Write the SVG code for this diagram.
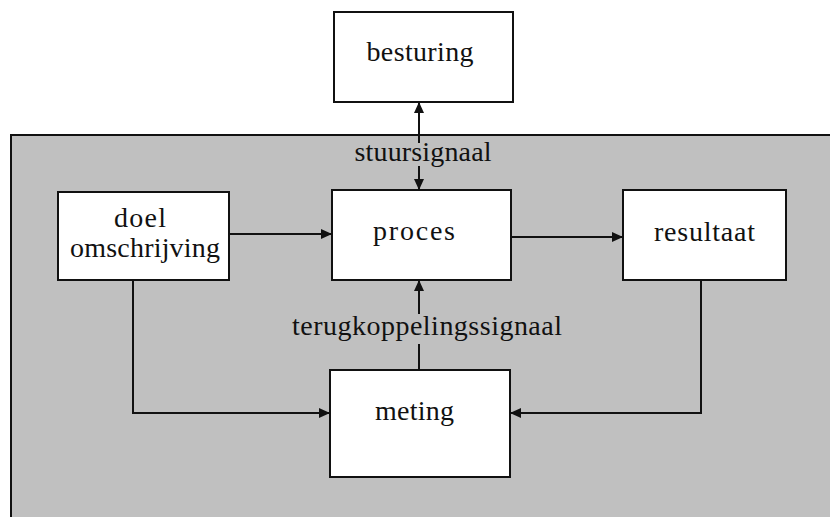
<svg xmlns="http://www.w3.org/2000/svg" width="830" height="517" viewBox="0 0 830 517">
<style>
.box{fill:#fff;stroke:#111;stroke-width:2}
.t{font-family:'Liberation Serif','DejaVu Serif',serif;font-size:28px;fill:#111;text-anchor:middle}
.c{fill:none;stroke:#111;stroke-width:2}
</style>
<defs>
<marker id="ah" markerUnits="userSpaceOnUse" markerWidth="12" markerHeight="10" refX="11" refY="5" orient="auto">
<path d="M0,0 L11,5 L0,10 Z" fill="#111"/>
</marker>
</defs>
<rect id="system" x="11" y="135" width="830" height="400" fill="#c0c0c0" stroke="#111" stroke-width="2"/>
<g id="besturing"><rect class="box" x="334" y="12" width="179" height="90"/><text class="t" font-family="Liberation Serif" x="420" y="61" textLength="107" lengthAdjust="spacing">besturing</text></g>
<g id="doel"><rect class="box" x="58" y="192" width="171" height="88"/><text class="t" font-family="Liberation Serif" x="140" y="227" textLength="52" lengthAdjust="spacing">doel</text><text class="t" font-family="Liberation Serif" x="145" y="257" textLength="150" lengthAdjust="spacing">omschrijving</text></g>
<g id="proces"><rect class="box" x="332" y="190" width="179" height="90"/><text class="t" font-family="Liberation Serif" x="414" y="240" textLength="82" lengthAdjust="spacing">proces</text></g>
<g id="resultaat"><rect class="box" x="623" y="190" width="163" height="90"/><text class="t" font-family="Liberation Serif" x="704.5" y="241" textLength="101" lengthAdjust="spacing">resultaat</text></g>
<g id="meting"><rect class="box" x="330" y="370" width="180" height="107"/><text class="t" font-family="Liberation Serif" x="414.5" y="420" textLength="79" lengthAdjust="spacing">meting</text></g>
<g id="connectors">
<line class="c" x1="419" y1="143" x2="419" y2="102" marker-end="url(#ah)"/>
<line class="c" x1="419" y1="166" x2="419" y2="190" marker-end="url(#ah)"/>
<text class="t" font-family="Liberation Serif" x="423" y="161" textLength="137" lengthAdjust="spacing">stuursignaal</text>
<line class="c" x1="229" y1="234" x2="332" y2="234" marker-end="url(#ah)"/>
<line class="c" x1="511" y1="237" x2="623" y2="237" marker-end="url(#ah)"/>
<line class="c" x1="419" y1="370" x2="419" y2="344"/>
<line class="c" x1="419" y1="314" x2="419" y2="280" marker-end="url(#ah)"/>
<text class="t" font-family="Liberation Serif" x="427" y="335" textLength="270" lengthAdjust="spacing">terugkoppelingssignaal</text>
<polyline class="c" points="133,280 133,413 330,413" marker-end="url(#ah)"/>
<polyline class="c" points="701,280 701,413 510,413" marker-end="url(#ah)"/>
</g>
</svg>
